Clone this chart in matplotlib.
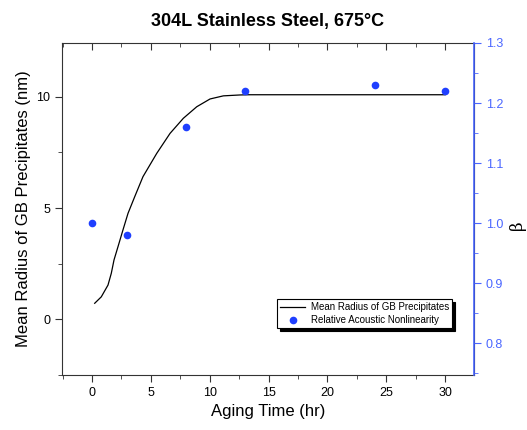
import matplotlib
matplotlib.use("Agg")
import matplotlib.pyplot as plt
import matplotlib.markers as mmarkers
from matplotlib.ticker import MultipleLocator

plt.rcParams['font.family'] = ['Liberation Sans', 'DejaVu Sans']

# fitted curve for mean radius (left axis)
fit_t = [0.23, 0.79, 1.36, 1.64, 1.87, 2.21, 2.63, 3.06, 3.63, 4.33, 5.50, 6.63,
         7.76, 8.90, 10.03, 11.16, 12.57, 13.4, 20.0, 30.0]
fit_r = [0.71, 1.00, 1.53, 2.06, 2.66, 3.26, 4.01, 4.76, 5.51, 6.41, 7.46, 8.36,
         9.04, 9.56, 9.91, 10.05, 10.09, 10.10, 10.10, 10.10]

# measured acoustic nonlinearity (right axis)
beta_t = [0, 3, 8, 13, 24, 30]
beta_v = [1.0, 0.98, 1.16, 1.22, 1.23, 1.22]

blue_pt = '#1f3fff'
blue_ax = '#4a66ff'

fig = plt.figure(figsize=(5.27, 4.30), dpi=100)
ax = fig.add_axes([0.1176, 0.1279, 0.7818, 0.7721])
ax2 = ax.twinx()

line, = ax.plot(fit_t, fit_r, color='black', lw=0.9, label='Mean Radius of GB Precipitates')
pts, = ax2.plot(beta_t, beta_v, 'o', color=blue_pt, ms=5.5, mec='none',
                label='Relative Acoustic Nonlinearity')

ax.set_xlim(-2.55, 32.45)
ax.set_ylim(-2.52, 12.43)
ax2.set_ylim(0.747, 1.30)

ax.xaxis.set_major_locator(MultipleLocator(5))
ax.xaxis.set_minor_locator(MultipleLocator(2.5))
ax.yaxis.set_major_locator(MultipleLocator(5))
ax.yaxis.set_minor_locator(MultipleLocator(2.5))
ax2.yaxis.set_major_locator(MultipleLocator(0.1))
ax2.yaxis.set_minor_locator(MultipleLocator(0.05))

ax.tick_params(axis='x', which='both', direction='out', top=True, labelsize=9, color='#333333')
ax.tick_params(axis='x', which='major', length=5)
ax.tick_params(axis='x', which='minor', length=3)
ax.tick_params(axis='y', which='both', direction='out', labelsize=9, color='#333333')
ax.tick_params(axis='y', which='major', length=5)
ax.tick_params(axis='y', which='minor', length=3)
ax2.tick_params(axis='y', which='both', direction='out', colors=blue_ax, labelsize=9)
ax2.tick_params(axis='y', which='major', length=5)
ax2.tick_params(axis='y', which='minor', length=3)

# top axis ticks point inward
for t in ax.xaxis.get_major_ticks() + ax.xaxis.get_minor_ticks():
    t.tick2line.set_marker(mmarkers.TICKDOWN)

for sp in ['left', 'bottom', 'top']:
    ax.spines[sp].set_color('#333333')
ax2.spines['right'].set_color(blue_ax)
ax2.spines['right'].set_linewidth(1.2)
for sp in ['left', 'bottom', 'top']:
    ax2.spines[sp].set_visible(False)

ax.set_xlabel('Aging Time (hr)', fontsize=12)
ax.set_ylabel('Mean Radius of GB Precipitates (nm)', fontsize=12)
ax2.set_ylabel('β', fontsize=12, family='DejaVu Serif', rotation=90, va='center')
ax2.yaxis.set_label_coords(1.105, 0.45)
ax.set_title('304L Stainless Steel, 675°C', fontsize=13, fontweight='bold', pad=12)

leg = ax2.legend([line, pts], [line.get_label(), pts.get_label()], loc='lower right',
                 bbox_to_anchor=(0.947, 0.142), fontsize=7, frameon=True, fancybox=False,
                 edgecolor='black', framealpha=1, borderaxespad=0, handlelength=2.6,
                 borderpad=0.3, labelspacing=0.3, handletextpad=0.6,
                 shadow={'color': 'black', 'alpha': 1})
leg.get_frame().set_linewidth(0.8)

fig.savefig('out.png', dpi=100)
